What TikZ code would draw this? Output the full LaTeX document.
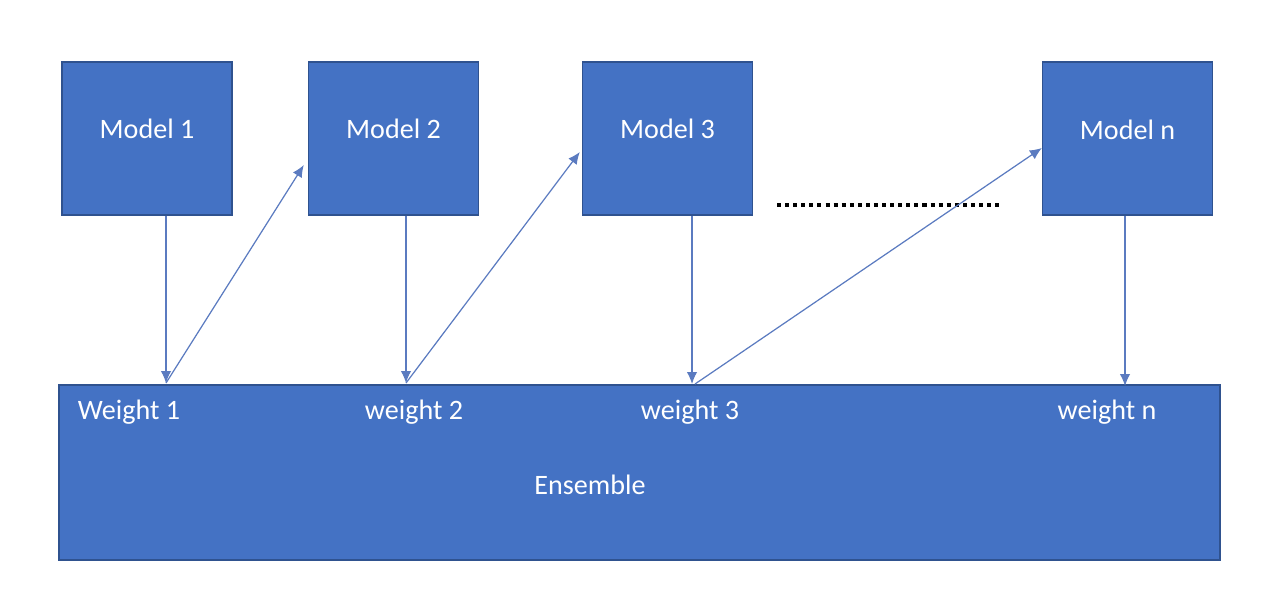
\documentclass[tikz,border=0pt]{standalone}
\usepackage{fontspec}
\setmainfont{Carlito}
\usepackage{tikz}
\usetikzlibrary{arrows.meta,calc,positioning}
\definecolor{boxblue}{HTML}{4472C4}
\definecolor{edgeblue}{HTML}{2F528F}
\definecolor{arrblue}{HTML}{5B7BC0}

\tikzset{
    modelbox/.style={rectangle, draw=edgeblue, fill=boxblue, line width=0.8pt,
        minimum width=3.4cm, minimum height=3.06cm},
    boxtext/.style={text=white, font=\fontsize{16}{19}\selectfont},
    arr/.style={draw=arrblue, line width=0.7pt, -{Latex[length=2.4mm,width=2.1mm]}}
}

\begin{document}
\begin{tikzpicture}[x=0.02cm, y=-0.02cm]
    \useasboundingbox (0,0) rectangle (1280,600);

    \node[modelbox, label={[boxtext,yshift=0.2cm]center:Model 1}] (m1) at (147,138.5) {};
    \node[modelbox, label={[boxtext,yshift=0.2cm]center:Model 2}] (m2) at (393.5,138.5) {};
    \node[modelbox, label={[boxtext,yshift=0.2cm]center:Model 3}] (m3) at (667.5,138.5) {};
    \node[modelbox, label={[boxtext,yshift=0.17cm]center:Model n}] (mn) at (1127.5,138.5) {};

    \node[modelbox, minimum width=23.22cm, minimum height=3.5cm] (ens) at (639.5,472.5) {};
    \node[boxtext] (t1) at (129,412) {Weight 1};
    \node[boxtext] (t2) at (414,412) {weight 2};
    \node[boxtext] (t3) at (690,412) {weight 3};
    \node[boxtext] (tn) at (1107,412) {weight n};
    \node[boxtext] (te) at (590,485) {Ensemble};

    % arrow ends on top of the ensemble
    \coordinate (w1) at (166,383);
    \coordinate (w2) at (406,383);
    \coordinate (w3) at (692,384);
    \coordinate (wn) at (1125,386);

    % dots between model 3 and model n
    \coordinate (dl) at (777,205);
    \coordinate (dr) at (1002,205);
    \draw[black, line width=2.3pt, dash pattern=on 2.3pt off 2.3pt] (dl) -- (dr);

    \draw[arr] (m1.south -| w1) -- (w1);
    \draw[arr] (m2.south -| w2) -- (w2);
    \draw[arr] (m3.south -| w3) -- (w3);
    \draw[arr] (mn.south -| wn) -- (wn);

    \draw[arr] (w1) -- ([xshift=-0.08cm,yshift=-0.53cm]m2.west);
    \draw[arr] (w2) -- ([xshift=-0.04cm,yshift=-0.27cm]m3.west);
    \draw[arr] ([xshift=0.06cm]w3) -- ([yshift=-0.19cm]mn.west);
\end{tikzpicture}
\end{document}
